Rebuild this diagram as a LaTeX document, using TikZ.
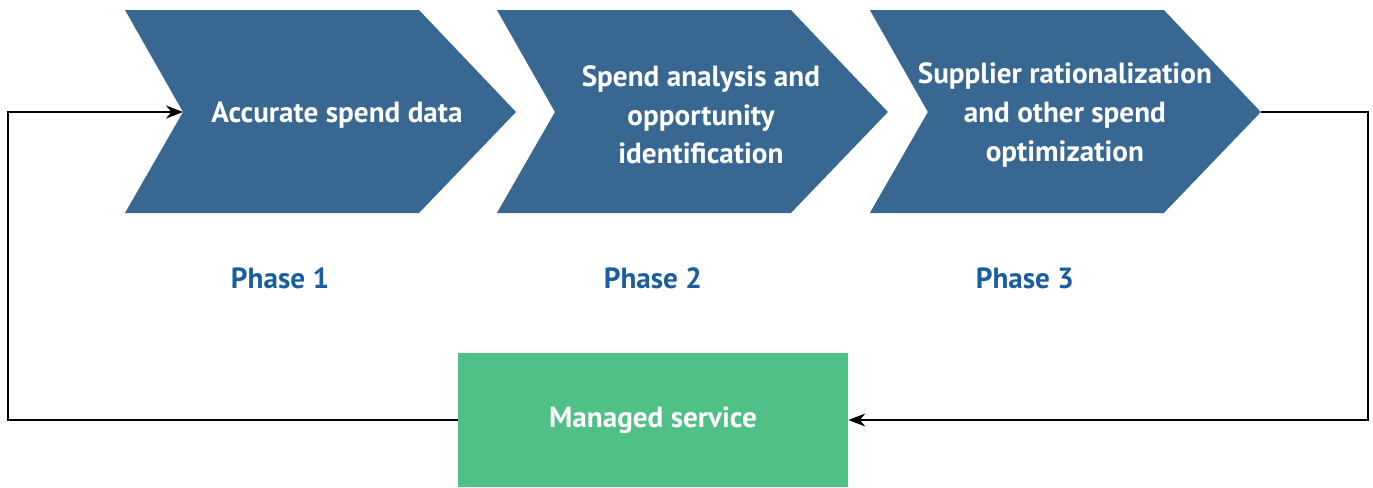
\documentclass[tikz,border=0pt]{standalone}
\usepackage{fontspec}
\setmainfont{PT Sans}
\usepackage{tikz}
\usetikzlibrary{positioning}
\usetikzlibrary{arrows.meta}
\definecolor{chevronblue}{HTML}{386891}
\definecolor{phaseblue}{HTML}{1B5E9F}
\definecolor{servicegreen}{HTML}{4FC187}
\tikzset {
  % chevron bodies
  chevron/.style={fill=chevronblue, draw=none},
  % white text on the chevrons
  steptext/.style={text=white, font=\bfseries\fontsize{16.6}{22}\selectfont, align=center},
  % phase captions below the chevrons
  phase/.style={text=phaseblue, font=\bfseries\fontsize{16.6}{22}\selectfont},
  % managed service box
  service/.style={fill=servicegreen, minimum width=7.8cm, minimum height=2.68cm,
    text=white, font=\bfseries\fontsize{16.6}{22}\selectfont},
  loop/.style={black, line width=1.1pt, -{Stealth[length=0.34cm, width=0.26cm]}},
}

\begin{document}
\begin{tikzpicture}[x=0.02cm, y=-0.02cm]
  \useasboundingbox (0, 0) rectangle (1373, 487);

  \begin{scope}
    \fill[chevron] (125, 10) -- (419, 10) -- (516, 112) -- (419, 213)
      -- (125, 213) -- (183, 112) -- cycle;
    \coordinate (notch1) at (183, 112);
    \node[steptext] (step1) at (337, 115) {Accurate spend data};
    \node[phase] (phase1) at (280, 278) {Phase 1};
  \end{scope}

  \begin{scope}[xshift=7.44cm]
    \fill[chevron] (125, 10) -- (419, 10) -- (516, 112) -- (419, 213)
      -- (125, 213) -- (183, 112) -- cycle;
    \node[steptext] (step2) at (329, 115) {Spend analysis and\\opportunity\\identification};
    \node[phase] (phase2) at (281, 278) {Phase 2};
  \end{scope}

  \begin{scope}[xshift=14.9cm]
    \fill[chevron] (125, 10) -- (419, 10) -- (516, 112) -- (419, 213)
      -- (125, 213) -- (183, 112) -- cycle;
    \coordinate (tip3) at (516, 112);
    \node[steptext] (step3) at (320, 115) {Supplier rationalization\\and other spend\\optimization};
    \node[phase] (phase3) at (280, 278) {Phase 3};
  \end{scope}

  \node[service] (ms) at (653, 420) {Managed service};

  \coordinate (rightturn) at (1368, 112);
  \coordinate (leftturn) at (8, 420);

  \draw[loop] (tip3) -- (rightturn) |- (ms.east);
  \draw[loop] (ms.west) -- (leftturn) |- (notch1);
\end{tikzpicture}
\end{document}
